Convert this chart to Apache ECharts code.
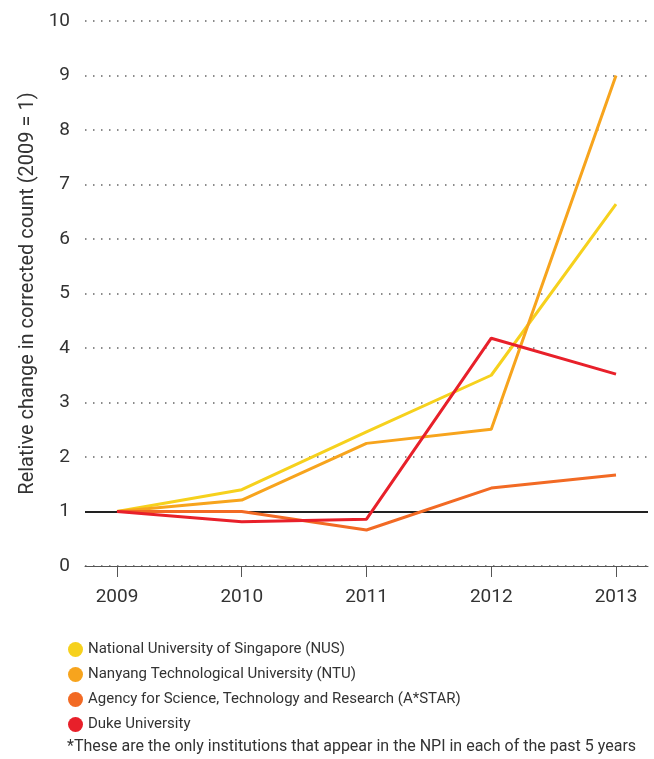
<!DOCTYPE html>
<html>
<head>
    <meta charset="utf-8">
    <script src="https://cdn.jsdelivr.net/npm/echarts@6.0.0/dist/echarts.min.js"></script>
    <style>
        html, body { margin: 0; padding: 0; background: #fff; }
    </style>
</head>
<body>
<div id="chart" style="width: 654px;height:759px;"></div>

<script>
  // 年份
  var years = [2009, 2010, 2011, 2012, 2013];
  // 各机构相对变化 (2009 = 1)
  var nusValues = [1, 1.4, 2.46, 3.5, 6.64];
  var ntuValues = [1, 1.21, 2.25, 2.51, 9];
  var astarValues = [1, 1.0, 0.66, 1.43, 1.67];
  var dukeValues = [1, 0.81, 0.86, 4.18, 3.52];
  var seriesNames = [
    'National University of Singapore (NUS)',
    'Nanyang Technological University (NTU)',
    'Agency for Science, Technology and Research (A*STAR)',
    'Duke University'
  ];
  var colors = ['#f6d11d', '#f7a41d', '#f26a24', '#e8202a'];

  function pairs(values) {
    return years.map(function (y, i) { return [y, values[i]]; });
  }

  var font = 'Roboto, sans-serif';
  var myChart = echarts.init(document.getElementById('chart'));

  var lineSeries = [nusValues, ntuValues, astarValues, dukeValues].map(function (v, i) {
    return {
      name: seriesNames[i],
      type: 'line',
      data: pairs(v),
      symbol: 'none',
      z: 3 + i,
      lineStyle: { color: colors[i], width: 3 },
      itemStyle: { color: colors[i] }
    };
  });

  // 基准线 y = 1
  lineSeries.unshift({
    name: 'base',
    type: 'line',
    data: [],
    z: 2,
    markLine: {
      silent: true,
      symbol: 'none',
      label: { show: false },
      lineStyle: { color: '#222', width: 2, type: 'solid' },
      data: [{ yAxis: 1 }]
    }
  });

  var option = {
    animation: false,
    color: colors,
    textStyle: { fontFamily: font },
    grid: { left: 85, right: 6, top: 21, bottom: 193 },
    xAxis: {
      type: 'value',
      min: 2008.7435,
      max: 2013.2565,
      axisLine: { show: true, lineStyle: { color: '#555', width: 1 } },
      axisTick: { show: true, customValues: years, length: 11, lineStyle: { color: '#555' } },
      axisLabel: {
        customValues: years, color: '#333', fontSize: 19, margin: 22, fontFamily: font,
        formatter: function (v) { return String(v); }
      },
      splitLine: { show: false }
    },
    yAxis: {
      type: 'value',
      min: 0,
      max: 10,
      interval: 1,
      name: 'Relative change in corrected count (2009 = 1)',
      nameLocation: 'middle',
      nameGap: 46,
      nameTextStyle: { color: '#333', fontSize: 20, fontFamily: font },
      axisLine: { show: false },
      axisTick: { show: false },
      axisLabel: { color: '#333', fontSize: 19, margin: 15, fontFamily: font },
      splitLine: { show: true, lineStyle: { color: '#666', type: [1.5, 6.5], width: 1.5 } }
    },
    legend: {
      orient: 'vertical',
      left: 63,
      top: 637,
      icon: 'circle',
      itemWidth: 15,
      itemHeight: 15,
      itemGap: 10,
      data: seriesNames,
      textStyle: { color: '#333', fontSize: 15, fontFamily: font }
    },
    graphic: [{
      type: 'text',
      left: 67,
      top: 739,
      style: {
        text: '*These are the only institutions that appear in the NPI in each of the past 5 years',
        fill: '#333',
        font: '16px ' + font
      }
    }],
    series: lineSeries
  };
  myChart.setOption(option);
</script>
</body>
</html>
